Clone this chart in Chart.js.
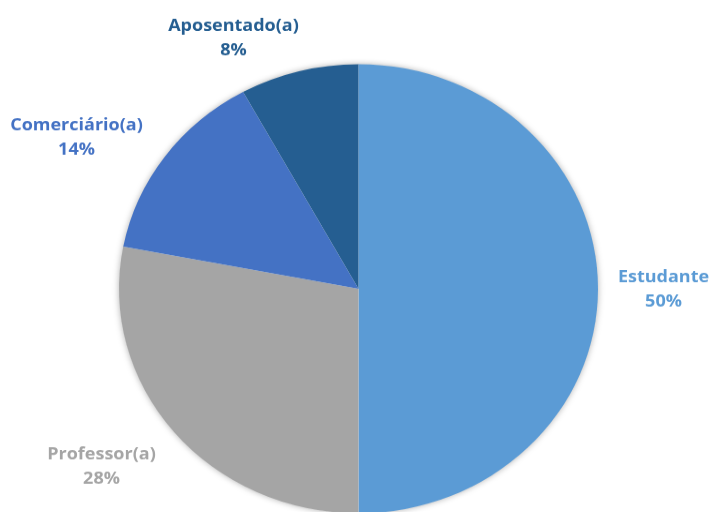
<!DOCTYPE html>
<html>
<head>
<meta charset="utf-8">
<script src="https://cdn.jsdelivr.net/npm/chart.js@4/dist/chart.umd.min.js"></script>
<style>
    html, body { margin: 0; padding: 0; background: #fff; overflow: hidden; }
    #wrap {
        width: 711px;
        height: 560px;
        transform: scaleY(0.9375);
        transform-origin: top left;
    }
</style>
</head>
<body>
<div id="wrap"><canvas id="pieChart"></canvas></div>
<script>
    // Ocupação dos participantes
    const categories = ["Estudante", "Professor(a)", "Comerciário(a)", "Aposentado(a)"];
    const percentages = [50, 28, 14, 8];
    const sliceColors = ["#5B9BD5", "#A5A5A5", "#4472C4", "#255E91"];

    // where each label block sits, relative to the pie centre
    const labelOffsets = [
        { dx: 305, dy: 1 },
        { dx: -257, dy: 190 },
        { dx: -282, dy: -161 },
        { dx: -125, dy: -267 }
    ];

    // soft shadow under the whole pie
    const pieShadow = {
        id: "pieShadow",
        beforeDatasetsDraw(chart) {
            const arc = chart.getDatasetMeta(0).data[0];
            const ctx = chart.ctx;
            ctx.save();
            ctx.shadowColor = "rgba(0, 0, 0, 0.35)";
            ctx.shadowBlur = 7;
            ctx.fillStyle = "#ffffff";
            ctx.beginPath();
            ctx.arc(arc.x, arc.y, arc.outerRadius - 0.5, 0, Math.PI * 2);
            ctx.fill();
            ctx.restore();
        }
    };

    // category name and percentage outside each slice
    const outsideLabels = {
        id: "outsideLabels",
        afterDatasetsDraw(chart) {
            const ctx = chart.ctx;
            const arcs = chart.getDatasetMeta(0).data;
            ctx.save();
            ctx.font = "bold 18px 'Open Sans'";
            ctx.textAlign = "center";
            ctx.textBaseline = "middle";
            arcs.forEach((arc, i) => {
                const x = arc.x + labelOffsets[i].dx;
                const y = arc.y + labelOffsets[i].dy;
                ctx.fillStyle = sliceColors[i];
                ctx.fillText(categories[i], x, y - 12.75);
                ctx.fillText(percentages[i] + "%", x, y + 12.75);
            });
            ctx.restore();
        }
    };

    new Chart(document.getElementById("pieChart"), {
        type: "pie",
        data: {
            labels: categories,
            datasets: [{
                data: percentages,
                backgroundColor: sliceColors,
                borderWidth: 0
            }]
        },
        options: {
            responsive: true,
            maintainAspectRatio: false,
            animation: false,
            layout: {
                padding: { left: 119, right: 113, top: 68, bottom: 12 }
            },
            plugins: {
                legend: { display: false },
                tooltip: { enabled: false }
            }
        },
        plugins: [pieShadow, outsideLabels]
    });
</script>
</body>
</html>
